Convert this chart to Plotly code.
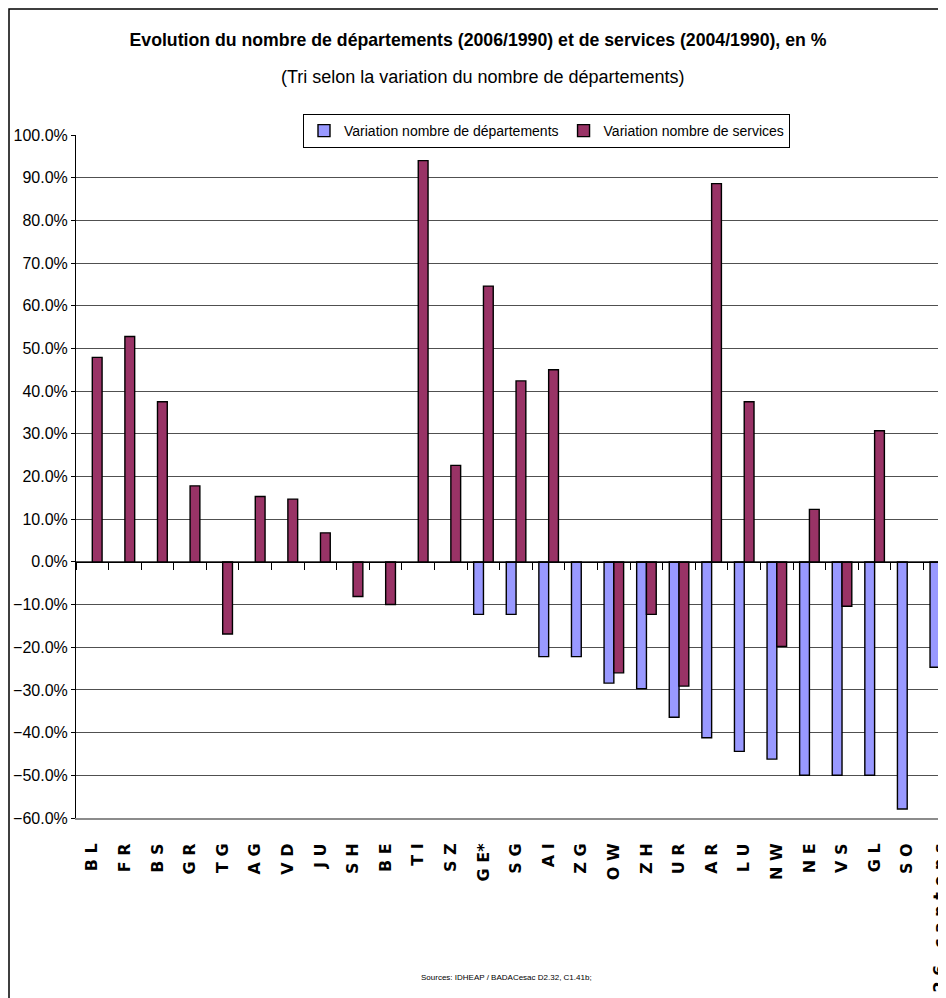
import plotly.graph_objects as go

# Cantons, triés selon la variation du nombre de départements
cantons = ["B L", "F R", "B S", "G R", "T G", "A G", "V D", "J U", "S H", "B E",
           "T I", "S Z", "G E*", "S G", "A I", "Z G", "O W", "Z H", "U R", "A R",
           "L U", "N W", "N E", "V S", "G L", "S O", "2 6   c a n t o n s"]

# Variation du nombre de départements (2006/1990), en %
var_departements = [None, None, None, None, None, None, None, None, None, None,
                    None, None, -12.3, -12.3, -22.2, -22.2, -28.4, -29.7, -36.4, -41.2,
                    -44.4, -46.2, -50.0, -50.0, -50.0, -57.9, -24.7]

# Variation du nombre de services (2004/1990), en %
var_services = [47.9, 52.8, 37.5, 17.8, -16.9, 15.3, 14.7, 6.8, -8.1, -10.0,
                94.0, 22.6, 64.6, 42.4, 45.0, None, -26.0, -12.3, -29.1, 88.6,
                37.5, -19.8, 12.3, -10.4, 30.7, None, 17.8]

police = "Liberation Sans, Arial"
cor_dep = "#9999FF"
cor_serv = "#993366"
cor_grid = "#505050"

# la page ajoute une marge de 8 px autour de la figure
largeur, hauteur = 938, 990

fig = go.Figure()

fig.add_trace(go.Bar(
    x=cantons, y=var_departements,
    name="Variation nombre de départements",
    marker=dict(color=cor_dep, line=dict(color="black", width=1.4)),
))
fig.add_trace(go.Bar(
    x=cantons, y=var_services,
    name="Variation nombre de services",
    marker=dict(color=cor_serv, line=dict(color="black", width=1.4)),
))
# trace vide pour faire exister l'axe des catégories posé sur 0%
fig.add_trace(go.Scatter(x=[], y=[], xaxis="x2", showlegend=False, hoverinfo="skip"))

y_min, y_max = -60, 100
x_range = [-0.5, 26.19]

fig.update_layout(
    width=largeur, height=hauteur,
    paper_bgcolor="white", plot_bgcolor="white",
    margin=dict(l=68, r=0, t=127, b=180, autoexpand=False),
    barmode="group", bargap=0.4, bargroupgap=0,
    font=dict(family=police, color="black"),
    title=dict(
        text="<b>Evolution du nombre de départements (2006/1990) et de services (2004/1990), en %</b>",
        x=470 / largeur, xanchor="center", xref="container",
        y=1 - 32 / hauteur, yanchor="middle", yref="container",
        font=dict(family=police, size=17.7),
    ),
    xaxis=dict(
        type="category", range=x_range, automargin=False,
        showgrid=False, zeroline=False,
        showline=True, linecolor="#8c8c8c", linewidth=2,
        ticks="", tickangle=-90, ticklabelstandoff=17,
        tickfont=dict(family="DejaVu Sans", size=16, weight="bold"),
    ),
    xaxis2=dict(
        overlaying="x", anchor="free", position=(0 - y_min) / (y_max - y_min),
        type="linear", range=x_range, tick0=0.5, dtick=1,
        ticks="outside", ticklen=7, tickcolor="black", tickwidth=1,
        showticklabels=False, showgrid=False, zeroline=False,
        showline=True, linecolor="black", linewidth=1,
    ),
    yaxis=dict(
        range=[y_min, y_max], dtick=10, tickformat=".1f", ticksuffix="%",
        automargin=False,
        showgrid=True, gridcolor=cor_grid, gridwidth=1,
        zeroline=False,
        showline=True, linecolor="black", linewidth=1,
        ticks="outside", ticklen=4, tickcolor="black",
        tickfont=dict(family=police, size=16),
    ),
    legend=dict(
        orientation="h",
        x=(303 - 76) / 870, xanchor="left",
        y=(818 - 114) / 683, yanchor="top",
        bgcolor="white", bordercolor="black", borderwidth=1,
        font=dict(family=police, size=14),
        traceorder="normal",
    ),
    annotations=[
        dict(text="(Tri selon la variation du nombre de départements)",
             xref="paper", yref="paper", x=(483 - 76) / 870, y=(818 - 77) / 683,
             xanchor="center", yanchor="middle", showarrow=False,
             font=dict(family=police, size=18)),
        dict(text="Sources: IDHEAP / BADACesac D2.32, C1.41b;",
             xref="paper", yref="paper", x=(506 - 76) / 870, y=(818 - 977) / 683,
             xanchor="center", yanchor="middle", showarrow=False,
             font=dict(family=police, size=8)),
    ],
    shapes=[
        dict(type="rect", xref="paper", yref="paper",
             x0=(9 - 76) / 870, x1=1.1, y0=-0.4, y1=(818 - 9) / 683,
             line=dict(color="black", width=1.5), fillcolor="rgba(0,0,0,0)"),
    ],
)

fig.write_html("out.html")
